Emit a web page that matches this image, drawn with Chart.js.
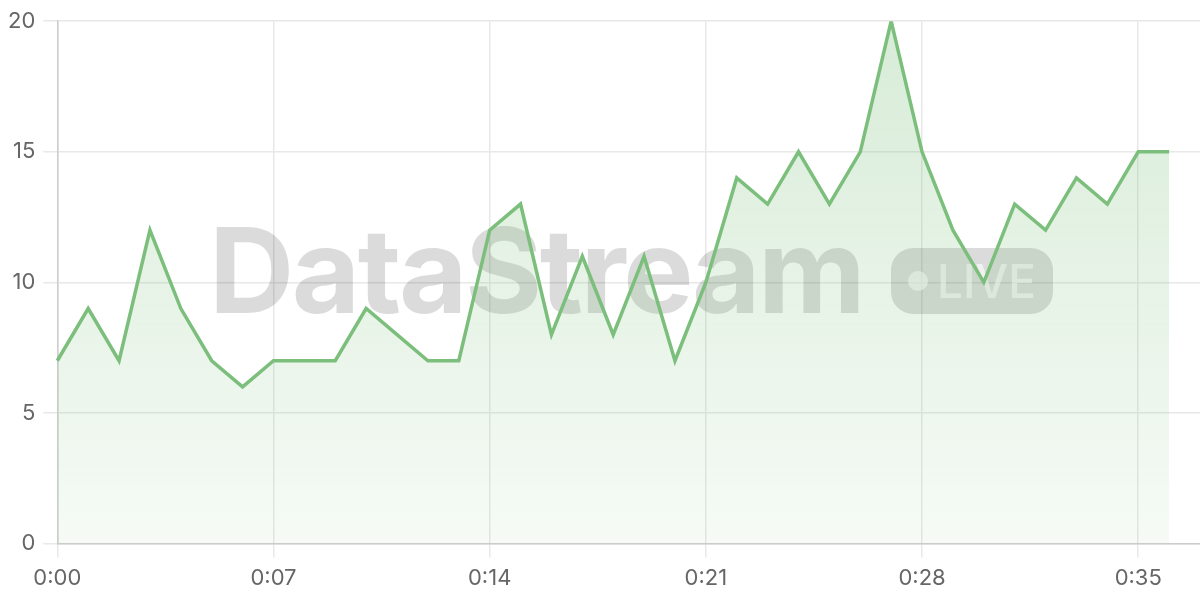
<!DOCTYPE html>
<html><head><meta charset="utf-8">
<script src="https://cdn.jsdelivr.net/npm/chart.js@4/dist/chart.umd.min.js"></script>
<style>html,body{margin:0;padding:0;background:#fff}#wrap{width:1200px;height:600px}</style>
</head><body><div id="wrap"><canvas id="c"></canvas></div>
<script>
const timeLabels = ['0:00','0:01','0:02','0:03','0:04','0:05','0:06','0:07','0:08','0:09','0:10','0:11','0:12','0:13','0:14','0:15','0:16','0:17','0:18','0:19','0:20','0:21','0:22','0:23','0:24','0:25','0:26','0:27','0:28','0:29','0:30','0:31','0:32','0:33','0:34','0:35','0:36','0:37'];
const values = [7,9,7,12,9,7,6,7,7,7,9,8,7,7,12,13,8,11,8,11,7,10,14,13,15,13,15,20,15,12,10,13,12,14,13,15,15];
const yTicks = [0,5,10,15,20];

const watermark = {
  id:'watermark',
  beforeDatasetsDraw(chart){
    const ctx = chart.ctx;
    ctx.save();
    ctx.fillStyle = 'rgba(0,0,0,0.14)';
    ctx.font = 'bold 118px Inter, "DejaVu Sans", sans-serif';
    ctx.textBaseline = 'alphabetic';
    ctx.textAlign = 'left';
    try { ctx.letterSpacing = '-2.5px'; } catch(e) {}
    ctx.fillText('DataStream', 209, 313);
    try { ctx.letterSpacing = '0px'; } catch(e) {}
    // badge
    const bx=891, by=248, bw=162, bh=66, r=22;
    ctx.beginPath();
    ctx.moveTo(bx+r,by);ctx.lineTo(bx+bw-r,by);ctx.arcTo(bx+bw,by,bx+bw,by+r,r);
    ctx.lineTo(bx+bw,by+bh-r);ctx.arcTo(bx+bw,by+bh,bx+bw-r,by+bh,r);
    ctx.lineTo(bx+r,by+bh);ctx.arcTo(bx,by+bh,bx,by+bh-r,r);
    ctx.lineTo(bx,by+r);ctx.arcTo(bx,by,bx+r,by,r);ctx.closePath();
    ctx.fill();
    ctx.fillStyle = 'rgba(255,255,255,0.6)';
    ctx.beginPath();ctx.arc(918,281,10,0,Math.PI*2);ctx.fill();
    ctx.font = '500 46px Inter, "DejaVu Sans", sans-serif';
    ctx.fillText('LIVE', 937, 298);
    ctx.restore();
  }
};

const ctx = document.getElementById('c').getContext('2d');
const grad = ctx.createLinearGradient(0,20,0,543);
grad.addColorStop(0,'rgba(124,191,124,0.30)');
grad.addColorStop(1,'rgba(124,191,124,0.07)');

new Chart(ctx,{
  type:'line',
  data:{labels:timeLabels,datasets:[{data:values,borderColor:'#7cbf7c',backgroundColor:grad,fill:true,borderWidth:3.5,pointRadius:0,tension:0}]},
  options:{
    responsive:true,maintainAspectRatio:false,animation:false,
    layout:{padding:{top:20,right:0,left:0,bottom:0}},
    plugins:{legend:{display:false},tooltip:{enabled:false}},
    scales:{
      x:{offset:false,
        grid:{color:'#e8e8e8',tickLength:14,lineWidth:1.5},
        border:{color:'#cccccc',width:1.5},
        ticks:{autoSkip:false,maxRotation:0,color:'#666',font:{family:'Inter, sans-serif',size:22},padding:8,
          callback:function(v,i){return i%7===0 ? timeLabels[i] : null;}}
      },
      y:{min:0,max:20,
        afterBuildTicks(axis){axis.ticks = yTicks.map(v=>({value:v}));},
        grid:{color:'#e8e8e8',tickLength:14,lineWidth:1.5},
        border:{color:'#cccccc',width:1.5},
        ticks:{color:'#666',font:{family:'Inter, sans-serif',size:22},padding:8}
      }
    }
  },
  plugins:[watermark]
});
</script></body></html>
